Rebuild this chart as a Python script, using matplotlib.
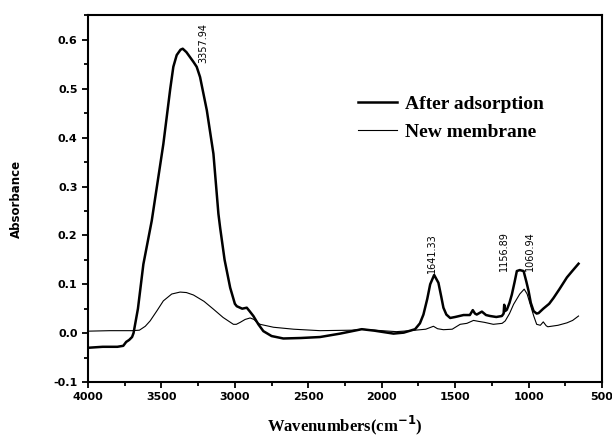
import matplotlib
matplotlib.use("Agg")
import matplotlib.pyplot as plt
from matplotlib.ticker import MultipleLocator, FormatStrFormatter

# After adsorption (thick)
wn_after = [4000, 3900, 3800, 3760, 3740, 3720, 3700, 3690, 3660, 3623, 3566, 3487, 3440, 3419,
            3396, 3370, 3355, 3330, 3282, 3260, 3237, 3191, 3146, 3112, 3100, 3070, 3032, 3000,
            2987, 2950, 2919, 2900, 2874, 2840, 2806, 2750, 2670, 2550, 2420, 2283, 2136, 2050,
            1920, 1850, 1773, 1740, 1716, 1690, 1670, 1643, 1614, 1595, 1580, 1560, 1534, 1500,
            1443, 1400, 1380, 1365, 1353, 1318, 1290, 1262, 1220, 1182, 1170, 1166, 1160, 1148,
            1130, 1114, 1095, 1080, 1060, 1034, 1015, 1000, 985, 966, 945, 932, 900, 860, 830,
            790, 739, 700, 660]
abs_after = [-0.030, -0.028, -0.028, -0.026, -0.018, -0.014, -0.008, 0.000, 0.050, 0.141, 0.230,
             0.387, 0.500, 0.545, 0.569, 0.580, 0.582, 0.575, 0.555, 0.545, 0.524, 0.456, 0.367,
             0.244, 0.215, 0.150, 0.093, 0.060, 0.055, 0.050, 0.052, 0.045, 0.035, 0.018, 0.004,
             -0.006, -0.011, -0.010, -0.008, -0.001, 0.008, 0.005, -0.001, 0.001, 0.008, 0.020,
             0.038, 0.070, 0.100, 0.119, 0.103, 0.075, 0.052, 0.038, 0.031, 0.033, 0.037, 0.037,
             0.047, 0.040, 0.038, 0.044, 0.037, 0.035, 0.033, 0.035, 0.040, 0.058, 0.045, 0.048,
             0.062, 0.079, 0.105, 0.127, 0.129, 0.127, 0.105, 0.086, 0.062, 0.045, 0.040, 0.041,
             0.050, 0.060, 0.072, 0.090, 0.114, 0.128, 0.142]

# New membrane (thin)
wn_new = [4000, 3850, 3700, 3650, 3610, 3577, 3530, 3487, 3430, 3373, 3330, 3282, 3210, 3146,
          3080, 3010, 2990, 2964, 2930, 2896, 2870, 2850, 2828, 2737, 2600, 2420, 2200, 2136,
          2000, 1900, 1807, 1700, 1648, 1620, 1580, 1520, 1466, 1420, 1375, 1340, 1300, 1240,
          1180, 1159, 1130, 1102, 1060, 1030, 1010, 989, 965, 945, 920, 900, 880, 869, 800,
          739, 700, 660]
abs_new = [0.004, 0.005, 0.005, 0.006, 0.014, 0.025, 0.046, 0.066, 0.080, 0.084, 0.083, 0.078,
           0.065, 0.049, 0.032, 0.018, 0.018, 0.022, 0.028, 0.031, 0.028, 0.022, 0.018, 0.012,
           0.008, 0.005, 0.006, 0.008, 0.005, 0.003, 0.005, 0.008, 0.014, 0.009, 0.007, 0.008,
           0.018, 0.020, 0.026, 0.024, 0.022, 0.018, 0.020, 0.025, 0.040, 0.059, 0.080, 0.090,
           0.080, 0.059, 0.035, 0.018, 0.016, 0.023, 0.015, 0.013, 0.016, 0.021, 0.026, 0.035]

peak_labels = ["3357.94", "1641.33", "1156.89", "1060.94"]
peak_label_x = [3217, 1657, 1166, 989]
peak_label_y = [0.552, 0.124, 0.127, 0.127]

series_names = ["After adsorption", "New membrane"]

fig = plt.figure(figsize=(6.12, 4.36), dpi=100)
ax = fig.add_axes([0.1438, 0.1239, 0.8399, 0.8417])

ax.plot(wn_after, abs_after, color="black", lw=1.8, label=series_names[0])
ax.plot(wn_new, abs_new, color="black", lw=0.8, label=series_names[1])

ax.set_xlim(4000, 500)
ax.set_ylim(-0.1, 0.651)
ax.xaxis.set_major_locator(MultipleLocator(500))
ax.xaxis.set_minor_locator(MultipleLocator(250))
ax.yaxis.set_major_locator(MultipleLocator(0.1))
ax.yaxis.set_minor_locator(MultipleLocator(0.05))
ax.yaxis.set_major_formatter(FormatStrFormatter("%.1f"))

ax.tick_params(which="both", direction="out", top=False, right=False, width=1.3)
ax.tick_params(which="major", length=4)
ax.tick_params(which="minor", length=3)
for lab in ax.get_xticklabels() + ax.get_yticklabels():
    lab.set_fontsize(8)
    lab.set_fontweight("bold")
    lab.set_family("DejaVu Sans")
for s in ax.spines.values():
    s.set_linewidth(1.5)

ax.set_xlabel("Wavenumbers(cm$^{\\mathbf{-1}}$)", family="Liberation Serif",
              fontweight="bold", fontsize=12, labelpad=8)
ax.set_ylabel("Absorbance", family="DejaVu Sans", fontweight="bold", fontsize=8.5, labelpad=22)

for t, x, y in zip(peak_labels, peak_label_x, peak_label_y):
    ax.text(x, y, t, rotation=90, ha="center", va="bottom", fontsize=7, family="DejaVu Sans")

leg = ax.legend(loc="upper left", bbox_to_anchor=(0.491, 0.829), frameon=False,
                prop={"family": "Liberation Serif", "weight": "bold", "size": 14},
                handlelength=2.0, handletextpad=0.4, labelspacing=0.55)

fig.savefig("out.png", dpi=100)
